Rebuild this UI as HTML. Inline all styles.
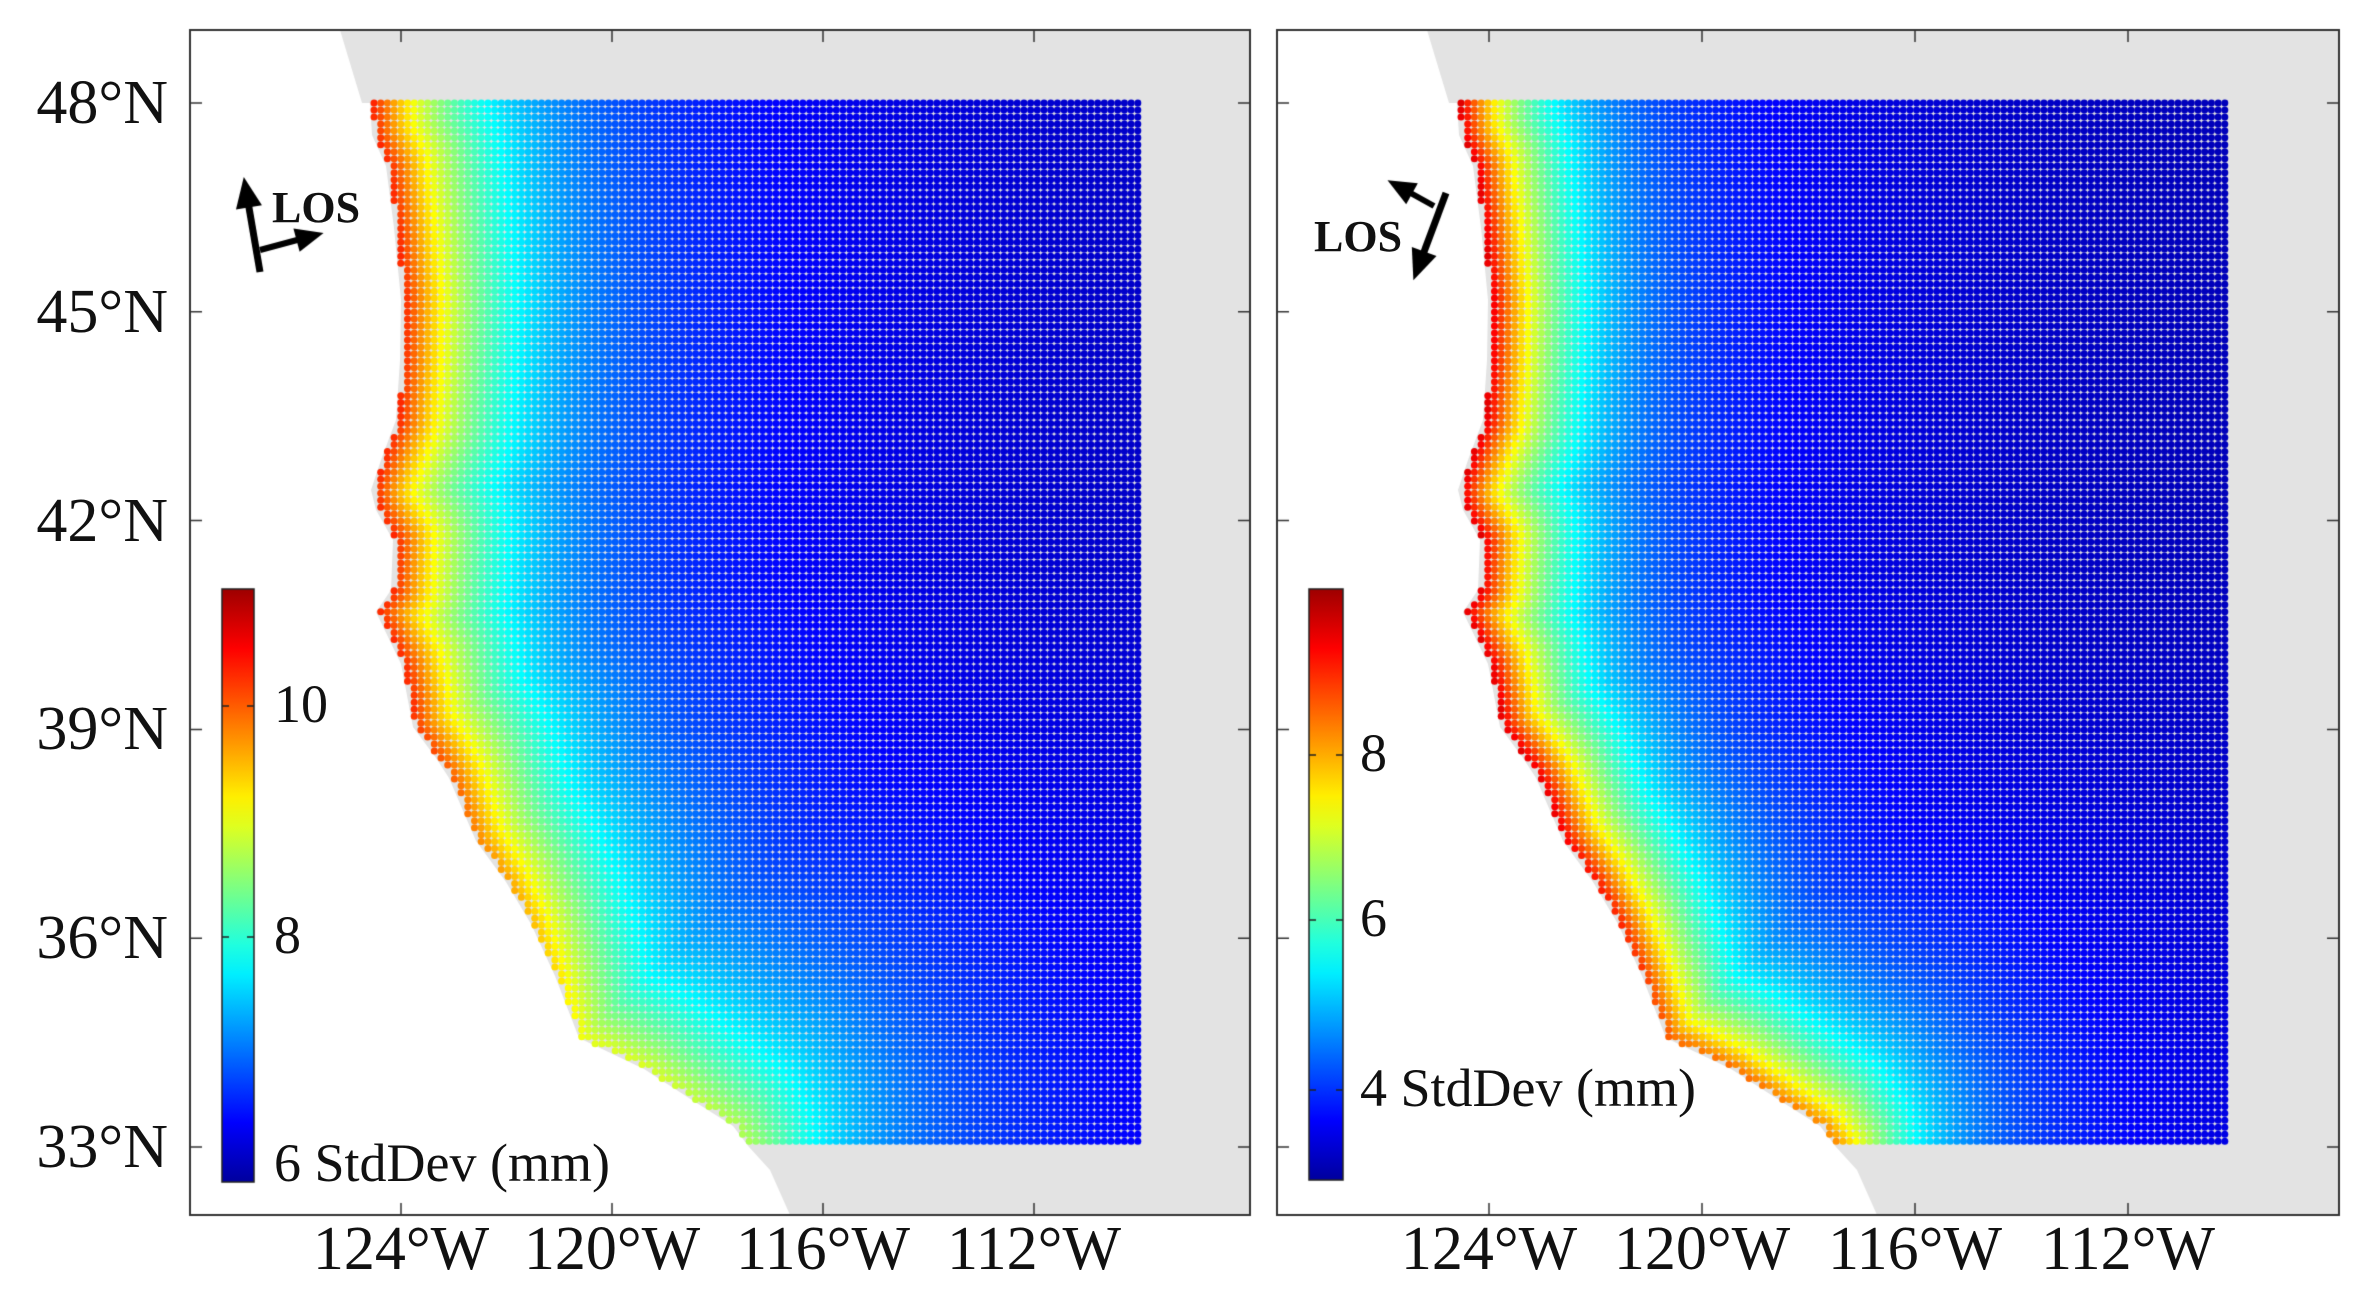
<!DOCTYPE html>
<html><head><meta charset="utf-8">
<style>
html,body{margin:0;padding:0;background:#fff;}
#wrap{position:relative;width:2354px;height:1311px;overflow:hidden;font-family:"Liberation Serif",serif;color:#111;}
canvas{position:absolute;left:0;top:0;}
.t{position:absolute;white-space:nowrap;line-height:1;}
.yl{font-size:62px;text-align:right;width:160px;}
.xl{font-size:62px;width:240px;text-align:center;}
.cb{font-size:54px;}
.los{font-size:44px;font-weight:bold;}
</style></head><body>
<div id="wrap">
<canvas id="c" width="2354" height="1311"></canvas>
<div class="t yl" style="left:8px;top:72px">48°N</div>
<div class="t yl" style="left:8px;top:281px">45°N</div>
<div class="t yl" style="left:8px;top:490px">42°N</div>
<div class="t yl" style="left:8px;top:698px">39°N</div>
<div class="t yl" style="left:8px;top:907px">36°N</div>
<div class="t yl" style="left:8px;top:1116px">33°N</div>

<div class="t xl" style="left:281px;top:1218px">124°W</div>
<div class="t xl" style="left:492px;top:1218px">120°W</div>
<div class="t xl" style="left:703px;top:1218px">116°W</div>
<div class="t xl" style="left:914px;top:1218px">112°W</div>
<div class="t xl" style="left:1369px;top:1218px">124°W</div>
<div class="t xl" style="left:1582px;top:1218px">120°W</div>
<div class="t xl" style="left:1795px;top:1218px">116°W</div>
<div class="t xl" style="left:2008px;top:1218px">112°W</div>

<div class="t cb" style="left:274px;top:677px">10</div>
<div class="t cb" style="left:274px;top:908px">8</div>
<div class="t cb" style="left:274px;top:1136px">6 StdDev (mm)</div>
<div class="t cb" style="left:1360px;top:726px">8</div>
<div class="t cb" style="left:1360px;top:891px">6</div>
<div class="t cb" style="left:1360px;top:1061px">4 StdDev (mm)</div>

<div class="t los" style="left:272px;top:186px">LOS</div>
<div class="t los" style="left:1314px;top:215px">LOS</div>
</div>
<script>
var c=document.getElementById('c'),g=c.getContext('2d');
function cl(v){return Math.max(0,Math.min(1,v));}
function jet(t){var r=cl(1.5-Math.abs(4*t-3)),gg=cl(1.5-Math.abs(4*t-2)),b=cl(1.5-Math.abs(4*t-1));
return 'rgb('+Math.round(r*255)+','+Math.round(gg*255)+','+Math.round(b*255)+')';}
var coast=[[374,103],[376,135],[390,166],[398,228],[405,300],[404,360],[400,420],[385,460],[375,490],[380,510],[397,540],[395,590],[380,612],[405,664],[417,727],[440,758],[453,778],[480,841],[510,882],[535,924],[559,976],[583,1038],[648,1069],[696,1100],[737,1126],[753,1147]];
function coastX(y){if(y<=coast[0][1])return coast[0][0];for(var i=0;i<coast.length-1;i++){var a=coast[i],b=coast[i+1];if(y>=a[1]&&y<=b[1]){return a[0]+(b[0]-a[0])*(y-a[1])/(b[1]-a[1]);}}return 753;}
var samp=[];for(var y=103;y<=1147;y+=3){samp.push([coastX(y),y]);}
function dist(x,y){var m=1e9;for(var i=0;i<samp.length;i++){var dx=x-samp[i][0],dy=y-samp[i][1];var d=dx*dx+dy*dy;if(d<m)m=d;}return Math.sqrt(m);}
var FT=30,FB=1215;
function panel(ox,fl,fr,right){
 g.fillStyle='#e3e3e3';g.beginPath();g.moveTo(ox+340,FT);g.lineTo(ox+362,103);
 for(var i=0;i<coast.length;i++)g.lineTo(ox+coast[i][0]-4,coast[i][1]);
 g.lineTo(ox+770,1170);g.lineTo(ox+790,FB);g.lineTo(fr,FB);g.lineTo(fr,FT);g.closePath();g.fill();
 var sp=6.7;
 for(var y=103;y<=1147.5;y+=sp*1.04){var cx=coastX(y);
  for(var x=374;x<=1140.5;x+=sp){ if(x<cx-1)continue;
   if(y>215&&y<232&&x<ox*0+400)continue;
   var d=dist(x,y),t;
   if(!right){var a=y<700?0.55:0.55-0.3*(y-700)/447;t=0.05+a*Math.exp(-d/90)+0.24*Math.exp(-d/310);}
   else{var a=y<800?0.62:0.62-0.17*(y-800)/347;t=0.045+a*Math.exp(-d/70)+0.24*Math.exp(-d/250);}
   g.fillStyle=jet(t);g.beginPath();g.arc(ox+x,y,3.5,0,6.283);g.fill();}}
 g.strokeStyle='#333';g.lineWidth=2;g.strokeRect(fl,FT,fr-fl,FB-FT);
 g.lineWidth=1.5;
 for(var i=0;i<6;i++){var Y=103+i*208.8;g.beginPath();g.moveTo(fl,Y);g.lineTo(fl+12,Y);g.moveTo(fr,Y);g.lineTo(fr-12,Y);g.stroke();}
 for(var i=0;i<4;i++){var X=right?1489+i*213:401+i*211;g.beginPath();g.moveTo(X,FT);g.lineTo(X,FT+12);g.moveTo(X,FB);g.lineTo(X,FB-12);g.stroke();}
}
panel(0,190,1250,false);
panel(1087,1277,2339,true);
function cbar(x0,x1,y0,y1){var gr=g.createLinearGradient(0,y1,0,y0);for(var i=0;i<=20;i++){var t=i/20;gr.addColorStop(t,jet(t*0.94+0.03));}
g.fillStyle=gr;g.fillRect(x0,y0,x1-x0,y1-y0);g.strokeStyle='#222';g.lineWidth=1.5;g.strokeRect(x0,y0,x1-x0,y1-y0);}
cbar(222,254,589,1182);
cbar(1309,1343,589,1180);
g.strokeStyle='#222';g.lineWidth=1.5;
[706,937].forEach(function(y){g.beginPath();g.moveTo(254,y);g.lineTo(247,y);g.moveTo(222,y);g.lineTo(229,y);g.stroke();});
[755,920,1090].forEach(function(y){g.beginPath();g.moveTo(1343,y);g.lineTo(1336,y);g.moveTo(1309,y);g.lineTo(1316,y);g.stroke();});
function arrow(x1,y1,x2,y2,w,h){g.strokeStyle='#000';g.fillStyle='#000';g.lineWidth=w;g.beginPath();g.moveTo(x1,y1);g.lineTo(x2,y2);g.stroke();
var an=Math.atan2(y2-y1,x2-x1);g.beginPath();g.moveTo(x2+Math.cos(an)*h*0.6,y2+Math.sin(an)*h*0.6);
g.lineTo(x2+Math.cos(an+2.5)*h,y2+Math.sin(an+2.5)*h);g.lineTo(x2+Math.cos(an-2.5)*h,y2+Math.sin(an-2.5)*h);g.closePath();g.fill();}
arrow(260,272,246,190,7,22);
arrow(260,250,312,236,6,20);
arrow(1446,193,1418,268,7,22);
arrow(1434,206,1398,186,6,20);
</script>
</body></html>
